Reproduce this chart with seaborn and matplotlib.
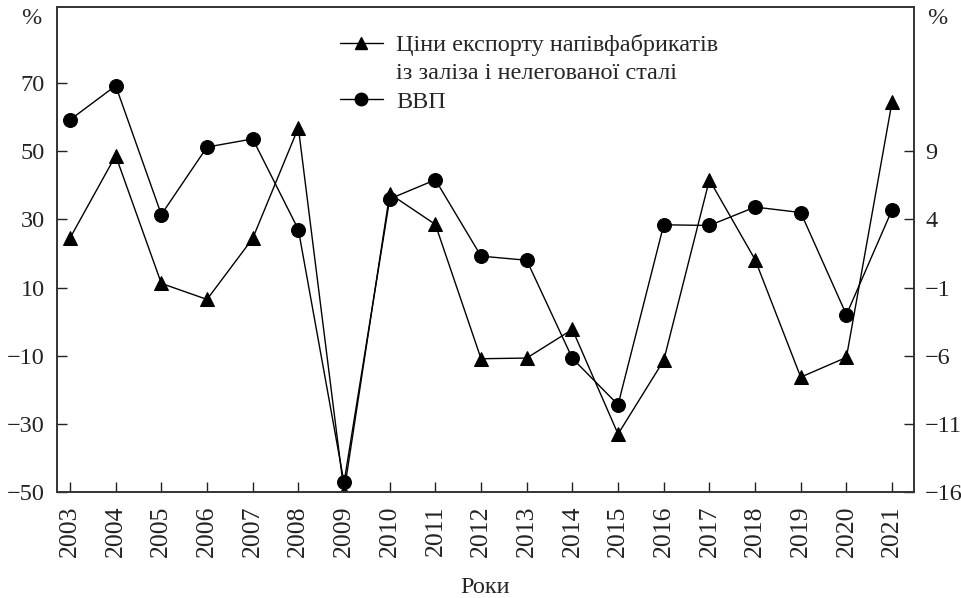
import matplotlib
matplotlib.use("Agg")
import matplotlib.pyplot as plt
import seaborn as sns
import pandas as pd
from matplotlib.lines import Line2D

years = list(range(2003, 2022))
export_prices = [24.5, 48.7, 11.2, 6.5, 24.4, 56.9, -50.0, 37.5, 28.5, -10.9, -10.7,
                 -2.3, -33.0, -11.4, 41.6, 18.2, -16.3, -10.5, 64.5]
gdp = [11.3, 13.8, 4.35, 9.3, 9.9, 3.25, -15.3, 5.5, 6.9, 1.3, 1.0,
       -6.2, -9.6, 3.6, 3.55, 4.9, 4.5, -3.0, 4.7]
left_ticks = [-50, -30, -10, 10, 30, 50, 70]
right_ticks = [-16, -11, -6, -1, 4, 9]
label_exp_1 = "Ціни експорту напівфабрикатів"
label_exp_2 = "із заліза і нелегованої сталі"
label_gdp = "ВВП"
xlabel = "Роки"

df = pd.DataFrame({"year": years, "exp": export_prices, "gdp": gdp})

sns.set_style("ticks")
plt.rcParams["font.family"] = ["Liberation Serif", "DejaVu Serif"]

FS = 17.5

fig = plt.figure(figsize=(9.62, 5.98), dpi=100)
ax = fig.add_axes([57/962, 1-492/598, (914-57)/962, (492-7)/598])
ax2 = ax.twinx()

sns.lineplot(data=df, x="year", y="exp", ax=ax, color="black", marker="^",
             markersize=10, linewidth=1.0, markeredgecolor="black")
sns.lineplot(data=df, x="year", y="gdp", ax=ax2, color="black", marker="o",
             markersize=10, linewidth=1.0, markeredgecolor="black")

ax.set_xlim(2002.715, 2021.48)
ax.set_ylim(-50, 92.3)
ax2.set_ylim(-16, -16 + 142.3/4)
ax.set_xticks(years)
ax.set_xticklabels([str(y) for y in years], rotation=90)
ax.set_yticks(left_ticks)
ax2.set_yticks(right_ticks)
ax.set_ylabel("")
ax2.set_ylabel("")
ax.set_xlabel(xlabel, fontsize=FS, labelpad=14)

for a in (ax, ax2):
    a.tick_params(direction="in", length=7, width=1.0, labelsize=FS, colors="#222222")
    for s in a.spines.values():
        s.set_visible(True)
        s.set_linewidth(1.2)
        s.set_color("#333333")
ax.tick_params(axis="x", pad=10, labelsize=18.5)
ax.tick_params(axis="y", pad=9)
ax2.tick_params(axis="y", pad=8)

fig.text(31/962, 1-19/598, "%", fontsize=FS, ha="center", va="center")
fig.text(937/962, 1-19/598, "%", fontsize=FS, ha="center", va="center")

handles = [Line2D([], [], color="black", marker="^", markersize=9, linewidth=1.0),
           Line2D([], [], linestyle="none", marker="none"),
           Line2D([], [], color="black", marker="o", markersize=9, linewidth=1.0)]
leg = ax.legend(handles, [label_exp_1, label_exp_2, label_gdp], loc="upper left",
                bbox_to_anchor=(340/962, 1-34/598), bbox_transform=fig.transFigure,
                frameon=False, fontsize=FS, handlelength=1.75, handletextpad=0.55,
                labelspacing=0.26, borderaxespad=0, borderpad=0)

fig.savefig("out.png", dpi=100)
